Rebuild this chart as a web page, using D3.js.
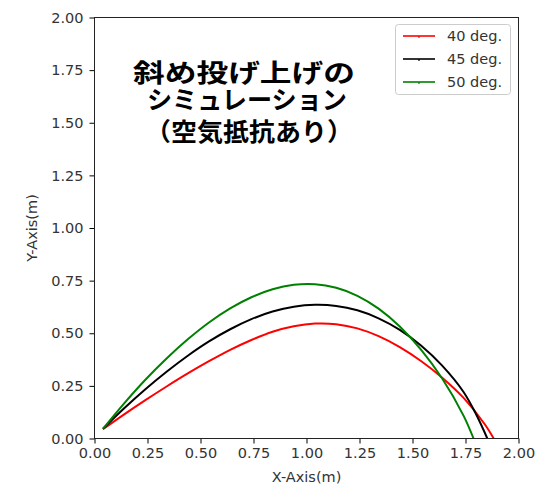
<!DOCTYPE html>
<html>
<head>
<meta charset="utf-8">
<script src="https://cdn.jsdelivr.net/npm/d3@7"></script>
<style>
  html, body { margin: 0; padding: 0; background: #fff; }
  svg { display: block; }
</style>
</head>
<body>
<svg id="chart" width="551" height="486"></svg>
<script>
// Trajectories of a projectile with air resistance, for three launch angles.
const seriesNames = ["40 deg.", "45 deg.", "50 deg."];
const seriesColors = ["#ff0000", "#000000", "#008000"];

const x40 = [0.04, 0.14, 0.24, 0.34, 0.44, 0.54, 0.64, 0.74, 0.84, 0.94, 1.04, 1.14, 1.24, 1.34, 1.44, 1.54, 1.64, 1.74, 1.84, 1.883];
const y40 = [0.044, 0.1145, 0.182, 0.247, 0.309, 0.367, 0.421, 0.468, 0.507, 0.533, 0.546, 0.543, 0.523, 0.486, 0.434, 0.368, 0.289, 0.194, 0.069, 0.0];

const x45 = [0.04, 0.14, 0.24, 0.34, 0.44, 0.54, 0.64, 0.74, 0.84, 0.94, 1.04, 1.14, 1.24, 1.34, 1.44, 1.54, 1.64, 1.74, 1.80, 1.853];
const y45 = [0.046, 0.1435, 0.234, 0.317, 0.393, 0.461, 0.519, 0.567, 0.603, 0.626, 0.635, 0.630, 0.609, 0.571, 0.516, 0.442, 0.346, 0.222, 0.115, 0.0];

const x50 = [0.04, 0.14, 0.24, 0.34, 0.44, 0.54, 0.64, 0.74, 0.84, 0.94, 1.04, 1.14, 1.24, 1.34, 1.44, 1.54, 1.64, 1.74, 1.788];
const y50 = [0.046, 0.167, 0.279, 0.380, 0.471, 0.551, 0.618, 0.671, 0.709, 0.730, 0.733, 0.716, 0.678, 0.617, 0.532, 0.422, 0.285, 0.110, 0.0];

const xTicks = [0, 0.25, 0.5, 0.75, 1.0, 1.25, 1.5, 1.75, 2.0];
const yTicks = [0, 0.25, 0.5, 0.75, 1.0, 1.25, 1.5, 1.75, 2.0];

const titleLines = ["斜め投げ上げの", "シミュレーション", "（空気抵抗あり）"];

const series = [
  { name: seriesNames[0], color: seriesColors[0], xs: x40, ys: y40 },
  { name: seriesNames[1], color: seriesColors[1], xs: x45, ys: y45 },
  { name: seriesNames[2], color: seriesColors[2], xs: x50, ys: y50 }
];

const svg = d3.select("#chart");
const plot = { left: 94.5, right: 518.5, top: 17.5, bottom: 438.5 };

const x = d3.scaleLinear().domain([0, 2]).range([plot.left, plot.right]);
const y = d3.scaleLinear().domain([0, 2]).range([plot.bottom, plot.top]);

const tickFont = "'DejaVu Sans', sans-serif";

// Curves
const line = d3.line()
  .x(d => x(d[0]))
  .y(d => y(d[1]))
  .curve(d3.curveCatmullRom.alpha(0.5));

const curves = svg.append("g");
series.forEach(s => {
  const pts = s.xs.map((v, i) => [v, s.ys[i]]);
  curves.append("path")
    .attr("d", line(pts))
    .attr("fill", "none")
    .attr("stroke", s.color)
    .attr("stroke-width", 2)
    .attr("stroke-linejoin", "round");
});

// Axes
const xAxis = d3.axisBottom(x).tickValues(xTicks).tickFormat(d3.format(".2f")).tickSize(5).tickPadding(4);
const yAxis = d3.axisLeft(y).tickValues(yTicks).tickFormat(d3.format(".2f")).tickSize(5).tickPadding(6);

const gx = svg.append("g").attr("transform", `translate(0,${plot.bottom})`).call(xAxis);
const gy = svg.append("g").attr("transform", `translate(${plot.left},0)`).call(yAxis);
[gx, gy].forEach(g => {
  g.select(".domain").remove();
  g.selectAll(".tick line").attr("stroke", "#000").attr("stroke-width", 1);
  g.selectAll(".tick text")
    .attr("fill", "#333")
    .style("font-family", tickFont)
    .style("font-size", "14.5px");
});

// Frame
svg.append("rect")
  .attr("x", plot.left).attr("y", plot.top)
  .attr("width", plot.right - plot.left).attr("height", plot.bottom - plot.top)
  .attr("fill", "none").attr("stroke", "#222").attr("stroke-width", 1);

// Axis labels
svg.append("text")
  .attr("x", (plot.left + plot.right) / 2).attr("y", 482)
  .attr("text-anchor", "middle")
  .attr("fill", "#333")
  .style("font-family", tickFont).style("font-size", "14.5px")
  .text("X-Axis(m)");

svg.append("text")
  .attr("transform", `translate(37,${(plot.top + plot.bottom) / 2}) rotate(-90)`)
  .attr("text-anchor", "middle")
  .attr("fill", "#333")
  .style("font-family", tickFont).style("font-size", "14.5px")
  .text("Y-Axis(m)");

// Title block inside the plot: one text element, one tspan per line
const titleY = [82, 109, 141];
const titleW = [222, 200, 208];
const titleX = [244, 247, 249];
const title = svg.append("text")
  .attr("text-anchor", "middle")
  .attr("fill", "#000")
  .style("font-family", "'Noto Sans CJK JP', sans-serif")
  .style("font-weight", "bold")
  .style("font-size", "25px");
titleLines.forEach((t, i) => {
  title.append("tspan")
    .attr("x", titleX[i]).attr("y", titleY[i])
    .attr("textLength", titleW[i])
    .attr("lengthAdjust", "spacingAndGlyphs")
    .text(t);
});

// Legend
const legend = svg.append("g");
legend.append("rect")
  .attr("x", 395.5).attr("y", 24.5).attr("width", 115).attr("height", 70)
  .attr("rx", 3).attr("fill", "#fff").attr("fill-opacity", 0.8)
  .attr("stroke", "#ccc").attr("stroke-width", 1);
const rowY = [36, 59, 82];
series.forEach((s, i) => {
  const g = legend.append("g");
  g.append("line")
    .attr("x1", 403).attr("x2", 435).attr("y1", rowY[i]).attr("y2", rowY[i])
    .attr("stroke", s.color).attr("stroke-width", 1.6);
  g.append("line")
    .attr("x1", 419).attr("x2", 419).attr("y1", rowY[i]).attr("y2", rowY[i] + 2)
    .attr("stroke", s.color).attr("stroke-width", 1.2);
  g.append("text")
    .attr("x", 447).attr("y", rowY[i] + 5)
    .attr("fill", "#333")
    .style("font-family", tickFont).style("font-size", "14.5px")
    .text(s.name);
});
</script>
</body>
</html>
